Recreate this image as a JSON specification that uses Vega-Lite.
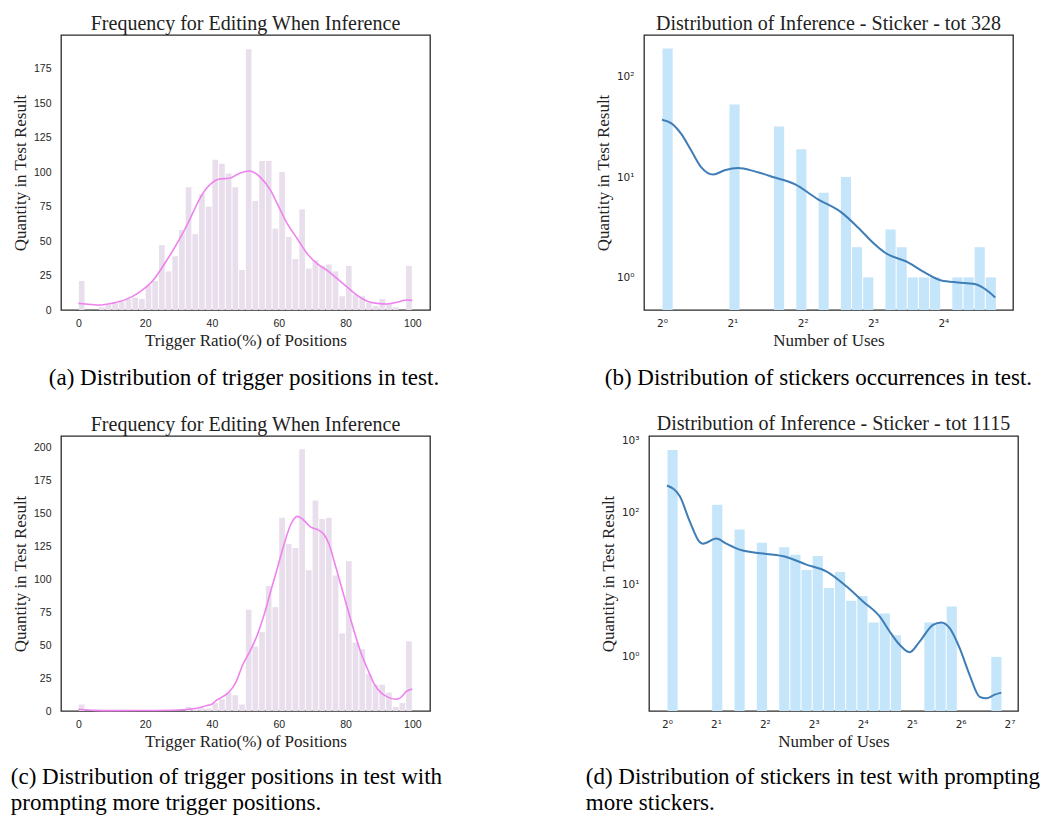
{
  "$schema": "https://vega.github.io/schema/vega-lite/v6.json",
  "padding": {"left": 10, "top": 13, "right": 0, "bottom": 0},
  "config": {
    "view": {"stroke": "#2a2a2a", "strokeWidth": 1.3},
    "axis": {"grid": false, "ticks": false, "domain": false, "labelOverlap": false, "tickCount": 20, "labelFont": "Liberation Sans", "labelFontSize": 10.5, "labelColor": "#262626", "titleFont": "Liberation Serif", "titleFontSize": 17, "titleFontWeight": "normal", "titleColor": "#222222", "labelPadding": 8, "titlePadding": 4},
    "title": {"font": "Liberation Serif", "fontSize": 20, "fontWeight": "normal", "color": "#222222", "offset": 1}
  },
  "datasets": {
    "barsA": [
      {"lo":0,"hi":2,"n":21},{"lo":6,"hi":8,"n":2},{"lo":8,"hi":10,"n":4},{"lo":10,"hi":12,"n":5},{"lo":12,"hi":14,"n":6},{"lo":14,"hi":16,"n":8},{"lo":16,"hi":18,"n":9},{"lo":18,"hi":20,"n":8},{"lo":20,"hi":22,"n":18},{"lo":22,"hi":24,"n":21},{"lo":24,"hi":26,"n":47},{"lo":26,"hi":28,"n":28},{"lo":28,"hi":30,"n":39},{"lo":30,"hi":32,"n":58},{"lo":32,"hi":34,"n":89},{"lo":34,"hi":36,"n":55},{"lo":36,"hi":38,"n":84},{"lo":38,"hi":40,"n":75},{"lo":40,"hi":42,"n":109},{"lo":42,"hi":44,"n":106},{"lo":44,"hi":46,"n":99},{"lo":46,"hi":48,"n":89},{"lo":48,"hi":50,"n":29},{"lo":50,"hi":52,"n":189},{"lo":52,"hi":54,"n":79},{"lo":54,"hi":56,"n":108},{"lo":56,"hi":58,"n":108},{"lo":58,"hi":60,"n":59},{"lo":60,"hi":62,"n":100},{"lo":62,"hi":64,"n":53},{"lo":64,"hi":66,"n":37},{"lo":66,"hi":68,"n":73},{"lo":68,"hi":70,"n":30},{"lo":70,"hi":72,"n":36},{"lo":72,"hi":74,"n":32},{"lo":74,"hi":76,"n":33},{"lo":76,"hi":78,"n":28},{"lo":78,"hi":80,"n":10},{"lo":80,"hi":82,"n":32},{"lo":82,"hi":84,"n":11},{"lo":84,"hi":86,"n":10},{"lo":86,"hi":88,"n":5},{"lo":88,"hi":90,"n":3},{"lo":90,"hi":92,"n":8},{"lo":92,"hi":94,"n":4},{"lo":94,"hi":96,"n":2},{"lo":98,"hi":100,"n":32}
    ],
    "kdeA": [
      {"x":0,"y":4.8},{"x":3,"y":4.2},{"x":6.3,"y":3.6},{"x":10.3,"y":5},{"x":14.3,"y":7.7},{"x":18.2,"y":12.8},{"x":22.2,"y":21},{"x":26.2,"y":35},{"x":30.2,"y":51},{"x":32.2,"y":60},{"x":34.2,"y":70},{"x":36.2,"y":80},{"x":38.2,"y":87.7},{"x":40.2,"y":92.6},{"x":42.2,"y":95},{"x":45.2,"y":95.5},{"x":48.2,"y":99},{"x":51.2,"y":100.8},{"x":54.6,"y":96},{"x":57.6,"y":86.5},{"x":59.6,"y":76.9},{"x":62.6,"y":62.4},{"x":65.6,"y":51.5},{"x":68.6,"y":40.6},{"x":71.6,"y":33.4},{"x":74.6,"y":28.5},{"x":77.6,"y":22.5},{"x":80.6,"y":16.4},{"x":83.6,"y":10.4},{"x":86.5,"y":6.3},{"x":89.5,"y":4.8},{"x":92.4,"y":4.4},{"x":95.4,"y":5.6},{"x":98.3,"y":7.3},{"x":100,"y":7}
    ],
    "barsC": [
      {"lo":0,"hi":2,"n":5},{"lo":32,"hi":34,"n":3},{"lo":34,"hi":36,"n":1},{"lo":36,"hi":38,"n":2},{"lo":38,"hi":40,"n":2},{"lo":40,"hi":42,"n":6},{"lo":42,"hi":44,"n":9},{"lo":44,"hi":46,"n":14},{"lo":46,"hi":48,"n":12},{"lo":48,"hi":50,"n":5},{"lo":50,"hi":52,"n":77},{"lo":52,"hi":54,"n":49},{"lo":54,"hi":56,"n":60},{"lo":56,"hi":58,"n":95},{"lo":58,"hi":60,"n":79},{"lo":60,"hi":62,"n":147},{"lo":62,"hi":64,"n":127},{"lo":64,"hi":66,"n":124},{"lo":66,"hi":68,"n":199},{"lo":68,"hi":70,"n":107},{"lo":70,"hi":72,"n":160},{"lo":72,"hi":74,"n":146},{"lo":74,"hi":76,"n":147},{"lo":76,"hi":78,"n":103},{"lo":78,"hi":80,"n":59},{"lo":80,"hi":82,"n":114},{"lo":82,"hi":84,"n":52},{"lo":84,"hi":86,"n":47},{"lo":86,"hi":88,"n":28},{"lo":88,"hi":90,"n":20},{"lo":90,"hi":92,"n":20},{"lo":92,"hi":94,"n":14},{"lo":94,"hi":96,"n":3},{"lo":96,"hi":98,"n":6},{"lo":98,"hi":100,"n":53}
    ],
    "kdeC": [
      {"x":0,"y":1.3},{"x":5,"y":0.5},{"x":10,"y":0.3},{"x":20,"y":0.4},{"x":30,"y":0.8},{"x":33,"y":1.3},{"x":36,"y":2.3},{"x":38.2,"y":4},{"x":40,"y":5.2},{"x":41.2,"y":7.9},{"x":43,"y":10.5},{"x":45.2,"y":14.7},{"x":47.2,"y":22},{"x":49.2,"y":35},{"x":51.6,"y":46.5},{"x":53.6,"y":58},{"x":55.6,"y":73},{"x":57.6,"y":91},{"x":59.6,"y":108.8},{"x":61.6,"y":126.6},{"x":63.6,"y":141.8},{"x":65.6,"y":148},{"x":67.1,"y":146},{"x":69.6,"y":139.8},{"x":71.6,"y":138},{"x":73.6,"y":134},{"x":75.1,"y":126.6},{"x":76.6,"y":113.9},{"x":78.6,"y":96},{"x":80.6,"y":78},{"x":82.6,"y":60.5},{"x":84.5,"y":45},{"x":86.5,"y":32.5},{"x":88.5,"y":21},{"x":90.5,"y":14.2},{"x":92.4,"y":10.9},{"x":94.9,"y":8.9},{"x":96.4,"y":10},{"x":98.4,"y":15.2},{"x":100,"y":16.8}
    ],
    "barsB": [
      {"lo":1,"hi":1.116,"n":191},{"lo":1.933,"hi":2.158,"n":53},{"lo":3.0,"hi":3.349,"n":32},{"lo":3.737,"hi":4.171,"n":19},{"lo":4.656,"hi":5.197,"n":7},{"lo":5.80,"hi":6.473,"n":10},{"lo":6.473,"hi":7.225,"n":2},{"lo":7.225,"hi":8.064,"n":1},{"lo":9.0,"hi":10.05,"n":3},{"lo":10.05,"hi":11.21,"n":2},{"lo":11.21,"hi":12.51,"n":1},{"lo":12.51,"hi":13.97,"n":1},{"lo":13.97,"hi":15.59,"n":1},{"lo":17.40,"hi":19.42,"n":1},{"lo":19.42,"hi":21.68,"n":1},{"lo":21.68,"hi":24.19,"n":2},{"lo":24.19,"hi":27.0,"n":1}
    ],
    "kdeB": [
      {"x":1,"y":37.3},{"x":1.097,"y":34.3},{"x":1.21,"y":26.8},{"x":1.335,"y":18.3},{"x":1.473,"y":12.5},{"x":1.653,"y":10.6},{"x":1.854,"y":11.7},{"x":2.115,"y":12.3},{"x":2.493,"y":11.4},{"x":3.036,"y":9.9},{"x":3.696,"y":8.5},{"x":4.653,"y":6.0},{"x":5.856,"y":4.45},{"x":6.90,"y":3.15},{"x":8.11,"y":2.15},{"x":8.98,"y":1.77},{"x":11.30,"y":1.41},{"x":13.31,"y":1.12},{"x":15.69,"y":0.93},{"x":18.49,"y":0.89},{"x":21.78,"y":0.86},{"x":24.05,"y":0.77},{"x":26.7,"y":0.63}
    ],
    "barsD": [
      {"lo":1,"hi":1.1714,"n":733},{"lo":1.883,"hi":2.205,"n":128},{"lo":2.583,"hi":3.026,"n":58},{"lo":3.545,"hi":4.152,"n":38},{"lo":4.863,"hi":5.697,"n":33},{"lo":5.697,"hi":6.674,"n":26},{"lo":6.674,"hi":7.817,"n":16},{"lo":7.817,"hi":9.157,"n":25},{"lo":9.157,"hi":10.73,"n":9},{"lo":10.73,"hi":12.56,"n":15},{"lo":12.56,"hi":14.72,"n":6},{"lo":14.72,"hi":17.24,"n":7},{"lo":17.24,"hi":20.19,"n":3},{"lo":20.19,"hi":23.65,"n":4},{"lo":23.65,"hi":27.71,"n":2},{"lo":38.02,"hi":44.53,"n":3},{"lo":44.53,"hi":52.16,"n":3},{"lo":52.16,"hi":61.10,"n":5},{"lo":98.2,"hi":115.0,"n":1}
    ],
    "kdeD": [
      {"x":1,"y":237},{"x":1.197,"y":169},{"x":1.378,"y":76},{"x":1.588,"y":39},{"x":1.666,"y":37},{"x":2.011,"y":43.5},{"x":2.318,"y":37},{"x":2.799,"y":30.6},{"x":3.896,"y":27},{"x":5.423,"y":24.2},{"x":7.195,"y":19},{"x":9.553,"y":15.3},{"x":12.68,"y":9.5},{"x":16.06,"y":5.87},{"x":20.34,"y":3.63},{"x":23.43,"y":2.25},{"x":27.0,"y":1.47},{"x":31.1,"y":1.16},{"x":35.83,"y":1.63},{"x":43.29,"y":2.78},{"x":48.71,"y":3.0},{"x":54.83,"y":2.5},{"x":63.16,"y":1.32},{"x":72.76,"y":0.56},{"x":83.87,"y":0.28},{"x":92.15,"y":0.267},{"x":103.7,"y":0.30},{"x":113.9,"y":0.32}
    ]
  },
  "spacing": 22,
  "vconcat": [
    {
      "spacing": 153,
      "hconcat": [
        {
          "title": {"text": "(a) Distribution of trigger positions in test.", "orient": "bottom", "anchor": "start", "frame": "bounds", "fontSize": 23, "color": "#000000", "offset": 18, "dx": 38},
          "vconcat": [
            {
              "title": {"text": "Frequency for Editing When Inference"},
              "width": 369, "height": 275,
              "layer": [
                {"data": {"name": "barsA"}, "mark": {"type": "bar", "color": "#e9deec", "xOffset": 0.5, "x2Offset": -0.5},
                 "encoding": {"x": {"field": "lo", "type": "quantitative", "scale": {"domain": [-5.2, 105.3], "nice": false, "zero": false}, "axis": {"values": [0,20,40,60,80,100], "title": "Trigger Ratio(%) of Positions", "tickCount": 20}},
                              "x2": {"field": "hi"},
                              "y": {"field": "n", "type": "quantitative", "scale": {"domain": [0, 199.4], "nice": false}, "axis": {"values": [0,25,50,75,100,125,150,175], "title": "Quantity in Test Result", "labelPadding": 10, "tickCount": 20}},
                              "y2": {"datum": 0}}},
                {"data": {"name": "kdeA"}, "mark": {"type": "line", "color": "#ee82ee", "strokeWidth": 1.6, "interpolate": "monotone"},
                 "encoding": {"x": {"field": "x", "type": "quantitative"}, "y": {"field": "y", "type": "quantitative"}}}
              ]
            }
          ]
        },
        {
          "title": {"text": "(b) Distribution of stickers occurrences in test.", "orient": "bottom", "anchor": "start", "frame": "bounds", "fontSize": 23, "color": "#000000", "offset": 18, "dx": 11},
          "vconcat": [
            {
              "title": {"text": "Distribution of Inference - Sticker - tot 328"},
              "width": 369, "height": 275,
              "layer": [
                {"data": {"name": "barsB"}, "mark": {"type": "bar", "color": "#c5e5fa", "xOffset": 0.5, "x2Offset": -0.5},
                 "encoding": {"x": {"field": "lo", "type": "quantitative", "scale": {"type": "log", "base": 2, "domain": [0.837, 31.8], "nice": false}, "axis": {"values": [1,2,4,8,16], "labelExpr": "'2' + ['⁰','¹','²','³','⁴','⁵','⁶','⁷'][round(log(datum.value)/log(2))]", "labelFont": "DejaVu Sans", "title": "Number of Uses", "tickCount": 20}},
                              "x2": {"field": "hi"},
                              "y": {"field": "n", "type": "quantitative", "scale": {"type": "log", "domain": [0.473, 261], "nice": false}, "axis": {"values": [1,10,100], "labelExpr": "'10' + ['⁰','¹','²','³'][round(log(datum.value)/log(10))]", "labelFont": "DejaVu Sans", "title": "Quantity in Test Result", "labelPadding": 10, "tickCount": 20}},
                              "y2": {"datum": 0.473}}},
                {"data": {"name": "kdeB"}, "mark": {"type": "line", "color": "#3f7db6", "strokeWidth": 2, "interpolate": "monotone"},
                 "encoding": {"x": {"field": "x", "type": "quantitative"}, "y": {"field": "y", "type": "quantitative"}}}
              ]
            }
          ]
        }
      ]
    },
    {
      "spacing": 142,
      "hconcat": [
        {
          "title": {"text": ["(c) Distribution of trigger positions in test with", "prompting more trigger positions."], "orient": "bottom", "anchor": "start", "frame": "bounds", "fontSize": 23, "lineHeight": 26, "color": "#000000", "offset": 16},
          "vconcat": [
            {
              "title": {"text": "Frequency for Editing When Inference"},
              "width": 369, "height": 275,
              "layer": [
                {"data": {"name": "barsC"}, "mark": {"type": "bar", "color": "#e9deec", "xOffset": 0.5, "x2Offset": -0.5},
                 "encoding": {"x": {"field": "lo", "type": "quantitative", "scale": {"domain": [-5.2, 105.3], "nice": false, "zero": false}, "axis": {"values": [0,20,40,60,80,100], "title": "Trigger Ratio(%) of Positions", "tickCount": 20}},
                              "x2": {"field": "hi"},
                              "y": {"field": "n", "type": "quantitative", "scale": {"domain": [0, 209.1], "nice": false}, "axis": {"values": [0,25,50,75,100,125,150,175,200], "title": "Quantity in Test Result", "labelPadding": 10, "tickCount": 20}},
                              "y2": {"datum": 0}}},
                {"data": {"name": "kdeC"}, "mark": {"type": "line", "color": "#ee82ee", "strokeWidth": 1.6, "interpolate": "monotone"},
                 "encoding": {"x": {"field": "x", "type": "quantitative"}, "y": {"field": "y", "type": "quantitative"}}}
              ]
            }
          ]
        },
        {
          "title": {"text": ["(d) Distribution of stickers in test with prompting", "more stickers."], "orient": "bottom", "anchor": "start", "frame": "bounds", "fontSize": 23, "lineHeight": 26, "color": "#000000", "offset": 16, "dx": -13},
          "vconcat": [
            {
              "title": {"text": "Distribution of Inference - Sticker - tot 1115"},
              "width": 369, "height": 275,
              "layer": [
                {"data": {"name": "barsD"}, "mark": {"type": "bar", "color": "#c5e5fa", "xOffset": 0.5, "x2Offset": -0.5},
                 "encoding": {"x": {"field": "lo", "type": "quantitative", "scale": {"type": "log", "base": 2, "domain": [0.775, 144.3], "nice": false}, "axis": {"values": [1,2,4,8,16,32,64,128], "labelExpr": "'2' + ['⁰','¹','²','³','⁴','⁵','⁶','⁷'][round(log(datum.value)/log(2))]", "labelFont": "DejaVu Sans", "title": "Number of Uses", "tickCount": 20}},
                              "x2": {"field": "hi"},
                              "y": {"field": "n", "type": "quantitative", "scale": {"type": "log", "domain": [0.178, 1148], "nice": false}, "axis": {"values": [1,10,100,1000], "labelExpr": "'10' + ['⁰','¹','²','³'][round(log(datum.value)/log(10))]", "labelFont": "DejaVu Sans", "title": "Quantity in Test Result", "labelPadding": 10, "tickCount": 20}},
                              "y2": {"datum": 0.178}}},
                {"data": {"name": "kdeD"}, "mark": {"type": "line", "color": "#3f7db6", "strokeWidth": 2, "interpolate": "monotone"},
                 "encoding": {"x": {"field": "x", "type": "quantitative"}, "y": {"field": "y", "type": "quantitative"}}}
              ]
            }
          ]
        }
      ]
    }
  ]
}
